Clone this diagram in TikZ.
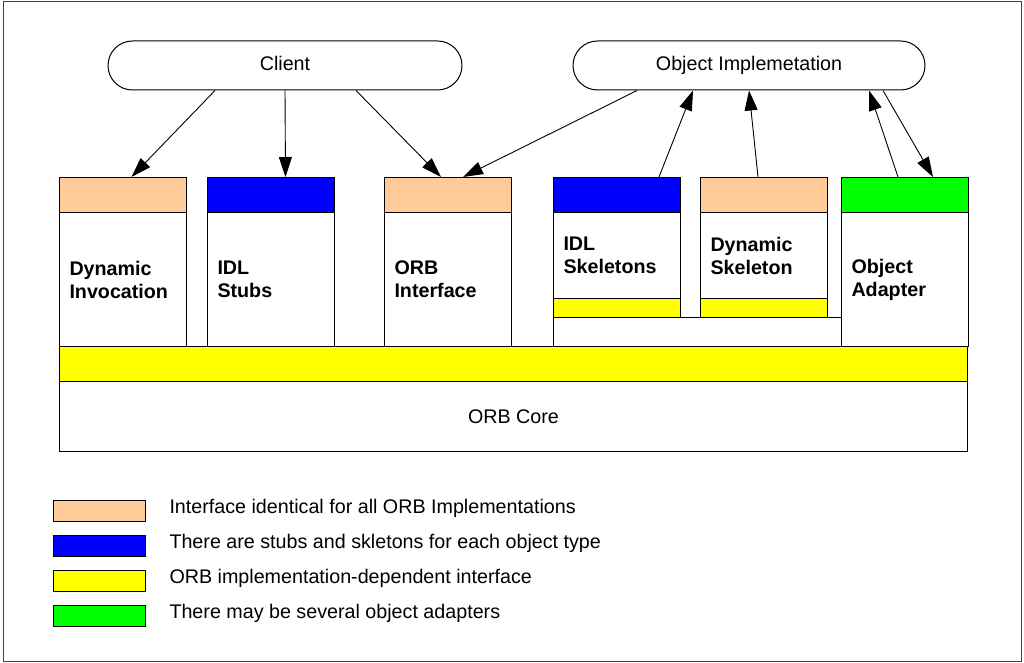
\documentclass[tikz,border=0pt]{standalone}
\usepackage{fontspec}
\setmainfont{Liberation Sans}
\usepackage{tikz}
\usetikzlibrary{arrows.meta,calc}
\usepackage{xcolor}
\definecolor{peach}{RGB}{255,204,153}
\definecolor{dependyellow}{RGB}{255,255,0}

\begin{document}
\begin{tikzpicture}[x=1pt,y=-1pt,line width=1pt,
		every node/.style={font=\fontsize{19.7}{23}\selectfont},
		pill/.style={draw,rounded corners=24.5pt,minimum width=354pt,minimum height=49pt,inner sep=0pt,
			text height=14pt,text depth=4pt},
		header/.style={draw,anchor=north west,minimum width=127pt,minimum height=35pt,inner sep=0pt},
		body/.style={draw,anchor=north west,minimum width=127pt,minimum height=#1,inner xsep=10pt,inner ysep=0pt,
			text width=107pt,align=left,font=\fontsize{19.7}{23}\selectfont\bfseries},
		band/.style={draw,fill=dependyellow,anchor=north west,inner sep=0pt},
		link/.style={-{Triangle[length=20pt,width=13pt]},line width=0.9pt}]
			\useasboundingbox (0,0) rectangle (1024,663);
			\draw[black!75] (3,2) rectangle (1021,661);
			% top ovals
			\node[pill] (client) at (285,65.5) {Client};
			\node[pill,minimum width=352pt] (impl) at (749,65.5) {Object Implemetation};
			% columns
			\node[header,fill=peach] (dynhead) at (59,177) {};
			\node[body=134pt] (dynbody) at (59,212) {Dynamic\\Invocation};
			\node[header,fill=blue] (stubhead) at (207,177) {};
			\node[body=134pt] (stubbody) at (207,212) {IDL\\Stubs};
			\node[header,fill=peach] (orbhead) at (384,177) {};
			\node[body=134pt] (orbbody) at (384,212) {ORB\\Interface};
			\node[header,fill=blue] (skelhead) at (553,177) {};
			\node[body=86pt] (skelbody) at (553,212) {IDL\\Skeletons};
			\node[band,minimum width=127pt,minimum height=19pt] (skelband) at (553,298) {};
			\node[header,fill=peach] (dsihead) at (700,177) {};
			\node[body=86pt] (dsibody) at (700,212) {Dynamic\\Skeleton};
			\node[band,minimum width=127pt,minimum height=19pt] (dsiband) at (700,298) {};
			\node[draw,anchor=north west,minimum width=288pt,minimum height=29pt,inner sep=0pt] (skelbase) at (553,317) {};
			\node[header,fill=green] (oahead) at (841,177) {};
			\node[body=134pt] (oabody) at (841,212) {Object\\Adapter};
			% core
			\node[band,minimum width=908pt,minimum height=35pt] (orbband) at (59,346) {};
			\node[draw,anchor=north west,minimum width=908pt,minimum height=70pt,inner sep=0pt] (core) at (59,381) {ORB Core};
			% arrows
			\draw[link] ($(client.south)+(-70,0)$) -- ($(dynhead.north)+(8.5,0)$);
			\draw[link] (client.south) -- ($(stubhead.north)+(14.5,0)$);
			\draw[link] ($(client.south)+(71,0)$) -- ($(orbhead.north)+(-7,0)$);
			\draw[link] ($(impl.south)+(-112,0)$) -- ($(orbhead.north)+(15,0)$);
			\draw[link] ($(skelhead.north)+(42,0)$) -- ($(impl.south)+(-56,0)$);
			\draw[link] ($(dsihead.north)+(-6,0)$) -- (impl.south);
			\draw[link] ($(oahead.north)+(-7,0)$) -- ($(impl.south)+(120,0)$);
			\draw[link] ($(impl.south)+(134,0)$) -- ($(oahead.north)+(28,0)$);
			% legend
			\foreach \col/\txt [count=\i] in {peach/Interface identical for all ORB Implementations,
				blue/There are stubs and skletons for each object type,
				dependyellow/ORB implementation-dependent interface,
				green/There may be several object adapters}{
				\node[draw,fill=\col,anchor=north west,minimum width=92pt,minimum height=21pt,inner sep=0pt] (key\i) at (53,465+35*\i) {};
				\node[anchor=west,inner sep=0pt] (keytext\i) at (169,473.5+35*\i) {\txt};
			}
		\end{tikzpicture}
\end{document}
